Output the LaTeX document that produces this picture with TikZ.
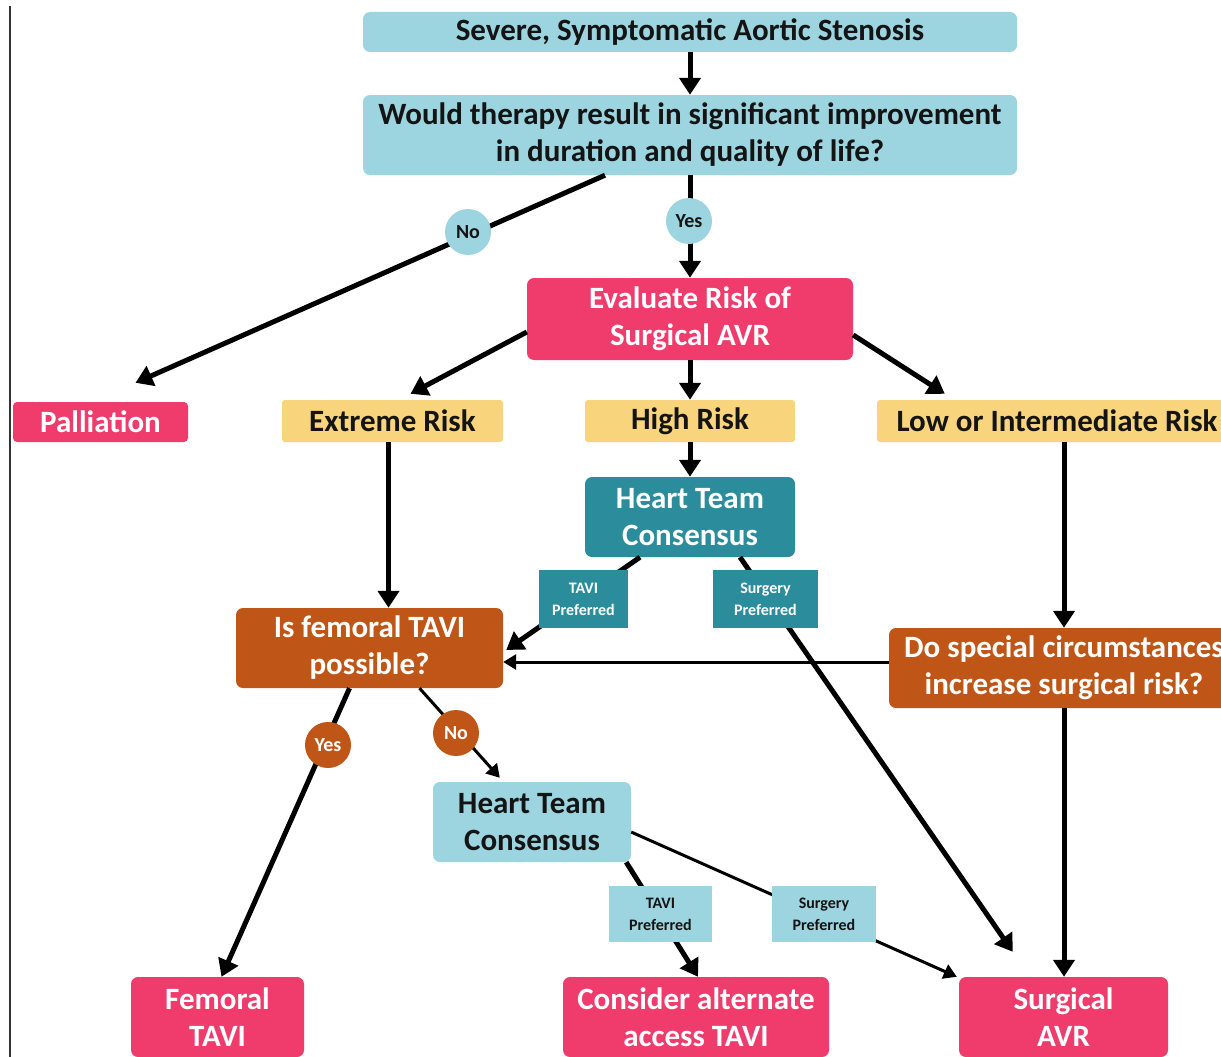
\documentclass[tikz,border=0pt]{standalone}
\usepackage{fontspec}
\setmainfont{Carlito}
\usetikzlibrary{arrows.meta,calc}
\definecolor{lblue}{HTML}{9CD5DF}
\definecolor{pinkc}{HTML}{F03C6C}
\definecolor{yell}{HTML}{F8D47C}
\definecolor{tealc}{HTML}{2B8C9B}
\definecolor{rust}{HTML}{BF5516}
\definecolor{txt}{HTML}{141414}
\begin{document}
\begin{tikzpicture}[x=1pt,y=-1pt,
  bx/.style={rounded corners=7pt, inner sep=0pt, align=center, font=\fontsize{31}{37}\selectfont\bfseries},
  lb/.style={bx, fill=lblue, text=txt},
  pk/.style={bx, fill=pinkc, text=white},
  yl/.style={bx, fill=yell, text=txt, rounded corners=3pt},
  tl/.style={bx, fill=tealc, text=white},
  rs/.style={bx, fill=rust, text=white},
  circ/.style={circle, inner sep=0pt, minimum size=46pt, font=\fontsize{20}{22}\selectfont\bfseries},
  sm/.style={inner sep=0pt, align=center, font=\fontsize{16}{22}\selectfont\bfseries},
  arr/.style={line width=5pt, -{Triangle[length=17pt,width=21pt]}},
  arrthin/.style={line width=3pt, -{Triangle[length=13pt,width=15pt]}},
]
\useasboundingbox (0,0) rectangle (1221,1057);
\draw[line width=2pt, black!80] (10,6) -- (10,1057);

% nodes
\node[lb, minimum width=654pt, minimum height=40pt] (top) at (690,32) {Severe, Symptomatic Aortic Stenosis};
\node[lb, minimum width=654pt, minimum height=80pt] (q) at (690,135) {Would therapy result in significant improvement\\in duration and quality of life?};
\node[pk, minimum width=326pt, minimum height=82pt] (eval) at (690,319) {Evaluate Risk of\\Surgical AVR};
\node[pk, minimum width=175pt, minimum height=40pt, rounded corners=4pt] (pall) at (100.5,422) {Palliation};
\node[yl, minimum width=221pt, minimum height=42pt] (ext) at (392.5,421) {Extreme Risk};
\node[yl, minimum width=210pt, minimum height=42pt] (high) at (690,421) {High Risk};
\node[yl, minimum width=360pt, minimum height=42pt] (low) at (1057,421) {Low or Intermediate Risk};
\node[tl, minimum width=210pt, minimum height=80pt] (htc) at (690,517) {Heart Team\\Consensus};
\node[rs, minimum width=267pt, minimum height=80pt] (fem) at (369.5,648) {Is femoral TAVI\\possible?};
\node[rs, minimum width=350pt, minimum height=80pt] (spec) at (1064,668) {Do special circumstances\\increase surgical risk?};
\node[lb, minimum width=198pt, minimum height=80pt] (htc2) at (532,822) {Heart Team\\Consensus};
\node[pk, minimum width=173pt, minimum height=80pt] (femtavi) at (217.5,1017) {Femoral\\TAVI};
\node[pk, minimum width=266pt, minimum height=80pt] (alt) at (696,1017) {Consider alternate\\access TAVI};
\node[pk, minimum width=209pt, minimum height=80pt] (savr) at (1063.5,1017) {Surgical\\AVR};

% connectors
\draw[arr] (top) -- (q);
\draw[arr] ([xshift=-85pt]q.south) -- ($(pall.north)+(35,-19)$);
\draw[arr] (q.south) -- (eval.north);
\draw[arr] ([yshift=-13pt]eval.west) -- ($(ext.north)+(18,-6)$);
\draw[arr] (eval.south) -- (high.north);
\draw[arr] ([yshift=-16pt]eval.east) -- ($(low.north west)+(68,-6)$);
\draw[arr] (high.south) -- (htc.north);
\draw[arr] ([xshift=-4pt]ext.south) -- ([xshift=-4pt]ext.south |- fem.north);
\draw[arr] ([xshift=-50pt]htc.south) -- ($(fem.east)+(3,2)$);
\draw[arr] ([xshift=50pt]htc.south) -- ($(savr.north west)+(54,-25)$);
\draw[arr] (low.south -| spec.north) -- (spec.north);
\draw[arrthin] ([yshift=6pt]spec.west) -- ([yshift=6pt]spec.west -| fem.east);
\draw[arr] (spec.south) -- (spec.south |- savr.north);
\draw[arr] ([xshift=-20pt]fem.south) -- ([xshift=4pt]femtavi.north);
\draw[arrthin] ([xshift=50pt]fem.south) -- ($(htc2.north west)+(67,-4)$);
\draw[arr] ([xshift=-5pt]htc2.south east) -- ([xshift=2pt]alt.north);
\draw[arrthin] ([yshift=-10pt]htc2.east) -- ($(savr.north west)+(-2,0)$);

% labels on connectors
\node[circ, fill=lblue, text=txt] (no1) at (468,232) {No};
\node[circ, fill=lblue, text=txt] (yes1) at (689,221) {Yes};
\node[circ, fill=rust, text=white] (yes2) at (328,745) {Yes};
\node[circ, fill=rust, text=white] (no2) at (456,733) {No};
\node[sm, fill=tealc, text=white, minimum width=89pt, minimum height=58pt] (tp1) at (583.5,599) {TAVI\\Preferred};
\node[sm, fill=tealc, text=white, minimum width=105pt, minimum height=58pt] (sp1) at (765.5,599) {Surgery\\Preferred};
\node[sm, fill=lblue, text=txt, minimum width=103pt, minimum height=56pt] (tp2) at (660.5,914) {TAVI\\Preferred};
\node[sm, fill=lblue, text=txt, minimum width=104pt, minimum height=56pt] (sp2) at (824,914) {Surgery\\Preferred};
\end{tikzpicture}
\end{document}
